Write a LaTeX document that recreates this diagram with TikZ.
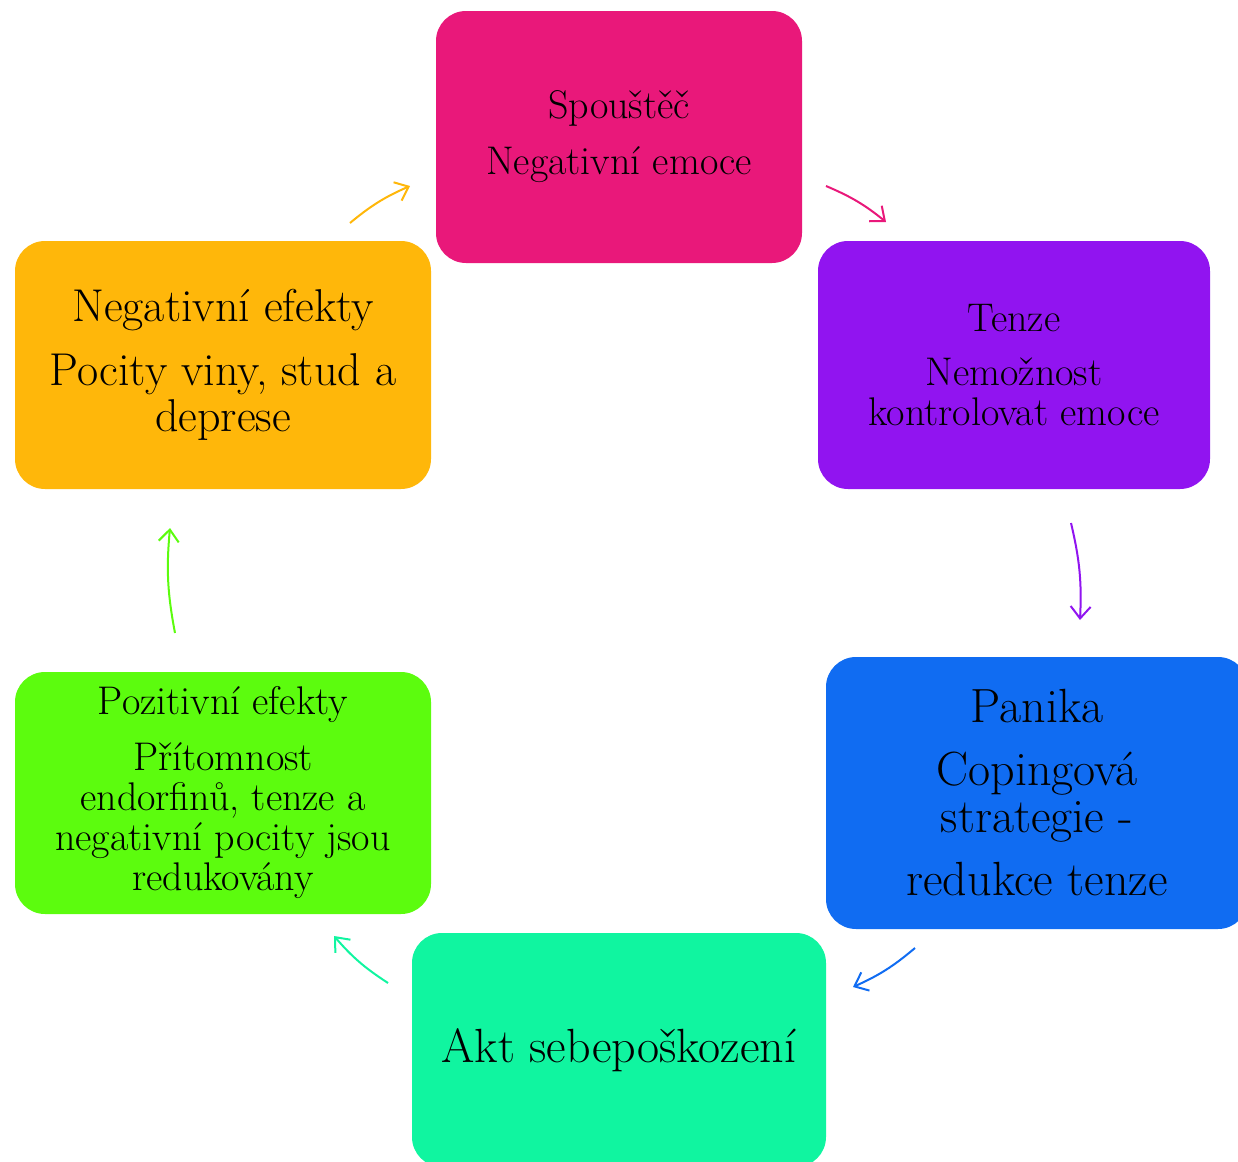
\documentclass[tikz,border=0pt]{standalone}
\usepackage{tikz}
\usetikzlibrary{arrows.meta}
\definecolor{cspo}{HTML}{E9187A}
\definecolor{cten}{HTML}{9114F0}
\definecolor{cpan}{HTML}{106CF2}
\definecolor{cakt}{HTML}{10F5A0}
\definecolor{cpoz}{HTML}{5CFC0E}
\definecolor{cneg}{HTML}{FFB70A}
\tikzset{
  stage/.style={rectangle, rounded corners=15pt, align=center, inner sep=0pt},
  flow/.style={-{Straight Barb[length=6pt,width=10pt]}, line width=1pt, bend left=8}
}
\begin{document}
\begin{tikzpicture}[x=0.5pt, y=-0.5pt]
\clip (0,0) rectangle (1238,1162);
\node[stage, fill=cspo, minimum width=183pt, minimum height=126pt,
      font=\fontsize{20}{21}\selectfont] (spo) at (619,137)
      {Spouštěč\\[7pt]Negativní emoce};
\node[stage, fill=cten, minimum width=196pt, minimum height=124pt,
      font=\fontsize{20}{20}\selectfont] (ten) at (1014,365)
      {Tenze\\[7pt]Nemožnost\\kontrolovat emoce};
\node[stage, fill=cpan, minimum width=211pt, minimum height=136pt,
      font=\fontsize{24}{23.5}\selectfont] (pan) at (1037,793)
      {Panika\\[8pt]Copingová\\strategie -\\[8pt]redukce tenze};
\node[stage, fill=cakt, minimum width=207pt, minimum height=117pt,
      font=\fontsize{24}{24}\selectfont] (akt) at (619,1050)
      {Akt sebepoškození};
\node[stage, fill=cpoz, minimum width=208pt, minimum height=121pt,
      font=\fontsize{20}{20}\selectfont] (poz) at (223,793)
      {Pozitivní efekty\\[8pt]Přítomnost\\endorfinů, tenze a\\negativní pocity jsou\\redukovány};
\node[stage, fill=cneg, minimum width=208pt, minimum height=124pt,
      font=\fontsize{23}{23}\selectfont] (neg) at (223,365)
      {Negativní efekty\\[9pt]Pocity viny, stud a\\deprese};
% arrow ends
\coordinate (n1) at (350,223); \coordinate (n2) at (410,186);
\coordinate (s1) at (826,186); \coordinate (s2) at (886,222);
\coordinate (t1) at (1071,523); \coordinate (t2) at (1080,620);
\coordinate (p1) at (915,948); \coordinate (p2) at (853,987);
\coordinate (a1) at (388,983); \coordinate (a2) at (334,936);
\coordinate (z1) at (175,633); \coordinate (z2) at (170,528);
\draw[flow, cneg] (n1) to (n2);
\draw[flow, cspo] (s1) to (s2);
\draw[flow, cten] (t1) to (t2);
\draw[flow, cpan] (p1) to (p2);
\draw[flow, cakt] (a1) to (a2);
\draw[flow, cpoz] (z1) to (z2);
\end{tikzpicture}
\end{document}
